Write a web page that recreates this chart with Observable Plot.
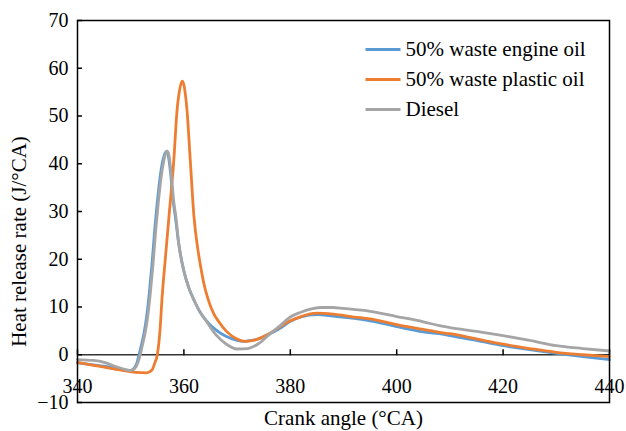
<!DOCTYPE html>
<html>
<head>
<meta charset="utf-8">
<script src="https://cdn.jsdelivr.net/npm/d3@7"></script>
<script src="https://cdn.jsdelivr.net/npm/@observablehq/plot@0.6"></script>
<style>
  html, body { margin: 0; padding: 0; background: #fff; }
</style>
</head>
<body>
<div id="chart"></div>
<script>
// ---- Data ----
const seriesNames = ["50% waste engine oil", "50% waste plastic oil", "Diesel"];
const seriesColors = ["#5b9bd5", "#ed7d31", "#a5a5a5"];

const engineX = [340,343,345,347,349,350,351,351.5,352,352.5,353,353.5,354,354.5,355,355.5,356,356.7,357,357.5,358,358.4,359,360,361,362,363,364,366,368,370,371.2,372,374,376,378,380,382,385,388,392,395,400,405,408,410,415,420,425,430,435,440];
const engineY = [-1.7,-2.1,-2.4,-2.8,-3.2,-3.3,-2.2,-0.3,2,4.5,8,13,19,26,32,37,40.5,42.6,42,38,32,28.8,23.5,17.5,13.8,11.2,9,7.4,5.2,3.8,3.0,2.8,2.9,3.3,4.3,5.5,7,7.9,8.4,8.1,7.6,7.1,5.9,4.8,4.4,4.0,3.0,1.9,1.1,0.3,-0.4,-1.0];

const plasticX = [340,343,345,347,349,351,353,354,354.5,355,355.5,355.9,356.5,357.2,358.1,358.7,359.2,359.7,360,360.6,361.2,361.9,362.5,363.1,363.7,364.5,365.6,366.5,368,370,371.5,373,375,376.5,378,380,382,385,388,392,395,400,405,408,410,415,420,425,430,435,440];
const plasticY = [-1.6,-2.2,-2.6,-3,-3.4,-3.7,-3.8,-3.2,-1.8,0,5,12,20,29,40.7,51,55.5,57.3,56.5,51,40.7,28.8,23,18.8,15.2,11.8,8.6,7,4.9,3.3,2.8,3.0,3.8,4.7,5.8,7.1,8.0,8.7,8.5,7.9,7.5,6.3,5.3,4.7,4.4,3.3,2.2,1.3,0.5,0,-0.4];

const dieselX = [340,343,345,347,349,350,351,351.8,352.2,352.7,353.2,353.7,354.2,354.7,355.2,355.7,356.2,356.8,357.1,357.6,358.1,358.5,359,360,361,362,363,364,366,368,370,372,374,376,378,380,382,384,386,388,390,395,400,405,408,410,415,420,425,430,435,440];
const dieselY = [-1,-1.2,-1.6,-2.4,-3.1,-3.3,-2.5,0,2,4.5,8,13,19,26,32,37,40.5,42.7,42.2,38,32,28.8,23.5,17.5,13.8,11.2,9,7.4,4.2,2.2,1.2,1.3,2.3,4.2,6,7.9,8.9,9.6,9.9,9.9,9.7,9.1,8.0,6.9,6.1,5.7,4.9,4.0,3.0,1.9,1.3,0.8];

const xTicks = [340, 360, 380, 400, 420, 440];
const yTicks = [-10, 0, 10, 20, 30, 40, 50, 60, 70];
const xLabel = "Crank angle (°CA)";
const yLabel = "Heat release rate (J/°CA)";

// ---- Build table ----
const rows = [];
[[engineX, engineY], [plasticX, plasticY], [dieselX, dieselY]].forEach(([xs, ys], i) => {
  xs.forEach((x, j) => rows.push({series: seriesNames[i], angle: x, hrr: ys[j]}));
});

const FONT = "Liberation Serif, DejaVu Serif, serif";
const W = 626, H = 431;
const mL = 77, mR = 17, mT = 20, mB = 29;
const yDomain = [-10, 70];
const y0px = mT + (yDomain[1] - 0) / (yDomain[1] - yDomain[0]) * (H - mT - mB);

const lineSymbol = {
  draw(ctx) { ctx.moveTo(-17.5, 0); ctx.lineTo(17.5, 0); }
};

const legendMarks = seriesNames.flatMap((name, i) => [
  Plot.dot([name], {frameAnchor: "top-left", dx: 382.5 - mL, dy: 29 + 30 * i,
    symbol: lineSymbol, r: 5, fill: "none", stroke: seriesColors[i], strokeWidth: 3}),
  Plot.text([name], {frameAnchor: "top-left", dx: 405 - mL, dy: 29 + 30 * i,
    text: d => d, textAnchor: "start", lineAnchor: "middle", fontSize: 21, fontFamily: FONT, fill: "#000"})
]);

const chart = Plot.plot({
  width: W,
  height: H,
  marginLeft: mL, marginRight: mR, marginTop: mT, marginBottom: mB,
  style: {fontFamily: FONT, fontSize: "20px", color: "#000", background: "#fff"},
  x: {domain: [340, 440], label: null},
  y: {domain: yDomain, label: null},
  color: {domain: seriesNames, range: seriesColors},
  marks: [
    Plot.ruleY([0], {stroke: "#333", strokeWidth: 1.5}),
    Plot.axisY({ticks: yTicks, tickSize: 0, tickPadding: 9, label: null, fontFamily: FONT, fontSize: 20, tickFormat: d => d < 0 ? "\u2212" + Math.abs(d) : String(d)}),
    Plot.axisY({ticks: yTicks, tickSize: 5, dx: 5, label: null, tickFormat: () => "", strokeWidth: 1.5}),
    Plot.axisX({anchor: "bottom", ticks: xTicks, tickSize: 0, tickPadding: 0, dy: -24, label: null, fontFamily: FONT, fontSize: 20}),
    Plot.axisX({anchor: "top", ticks: xTicks, tickSize: 6, dy: y0px - mT, label: null, tickFormat: () => "", strokeWidth: 1.5}),
    Plot.line(rows, {x: "angle", y: "hrr", z: "series", stroke: "series", strokeWidth: 2.8, curve: "monotone-x"}),
    Plot.frame({stroke: "#000", strokeWidth: 1.5}),
    ...legendMarks,
    Plot.text([yLabel], {frameAnchor: "left", dx: -58, dy: 30, rotate: -90, text: d => d, textAnchor: "middle", lineAnchor: "middle", fontSize: 21, fontFamily: FONT, fill: "#000"}),
    Plot.text([xLabel], {frameAnchor: "bottom", dy: 16, text: d => d, textAnchor: "middle", lineAnchor: "middle", fontSize: 21, fontFamily: FONT, fill: "#000"})
  ]
});

document.getElementById("chart").appendChild(chart);
</script>
</body>
</html>
